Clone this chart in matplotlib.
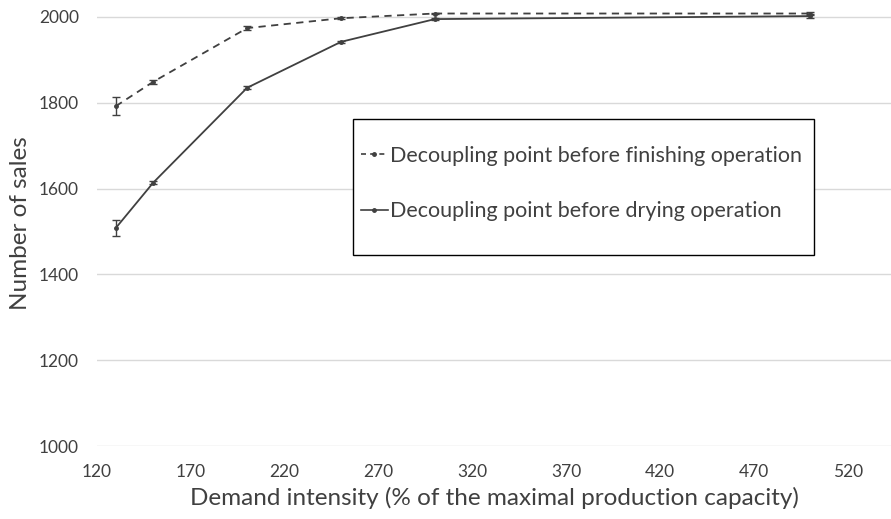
import matplotlib
matplotlib.use("Agg")
import matplotlib.pyplot as plt
from matplotlib.lines import Line2D
from matplotlib.patches import Rectangle

# demand intensity (% of maximal production capacity)
demand = [130, 150, 200, 250, 300, 500]

# number of sales
sales_finishing = [1792, 1849, 1974, 1997, 2008, 2008]
err_finishing = [21, 5, 4, 2, 2, 4]
sales_drying = [1508, 1614, 1835, 1942, 1995, 2002]
err_drying = [18, 4, 3, 2, 2, 4]

xticks = [120, 170, 220, 270, 320, 370, 420, 470, 520]
yticks = [1000, 1200, 1400, 1600, 1800, 2000]

labels = ['Decoupling point before finishing operation',
          'Decoupling point before drying operation']

plt.rcParams['font.family'] = ['Lato', 'DejaVu Sans']

W, H = 891, 519
fig = plt.figure(figsize=(W/100, H/100), dpi=100)
ax = fig.add_axes([97/W, 1 - 446/H, 1 - 97/W, 446/H])

col = '#404040'
dash = (0, (4, 3))
ax.errorbar(demand, sales_finishing, yerr=err_finishing, color=col, ls=dash,
            lw=1.3, marker='o', ms=2.5, capsize=3, elinewidth=1, capthick=1)
ax.errorbar(demand, sales_drying, yerr=err_drying, color=col, ls='-',
            lw=1.3, marker='o', ms=2.5, capsize=3, elinewidth=1, capthick=1)

ax.set_xlim(120, 543)
ax.set_ylim(1000, 2039.5)
ax.set_xticks(xticks)
ax.set_yticks(yticks)
ax.tick_params(length=0, labelsize=12.5, labelcolor='#404040', pad=13)
ax.grid(axis='y', color='#d9d9d9', lw=1)
ax.set_axisbelow(True)
for s in ax.spines.values():
    s.set_visible(False)

ax.set_xlabel('Demand intensity (% of the maximal production capacity)',
              fontsize=17.5, color='#404040', va='center')
ax.xaxis.set_label_coords(0.5, -52/446)
ax.set_ylabel('Number of sales', fontsize=17.5, color='#404040', va='center')
ax.yaxis.set_label_coords(-76/794, 0.5)

# legend box
fig.patches.append(Rectangle((353/W, 1 - 255/H), (814 - 353)/W, (255 - 119)/H,
                             transform=fig.transFigure, fill=True, fc='white',
                             ec='black', lw=1, zorder=5))

handles = [Line2D([], [], color=col, ls=(0, (3, 2.5)), lw=1.2, marker='o', ms=2.5),
           Line2D([], [], color=col, ls='-', lw=1.2, marker='o', ms=2.5)]
leg = fig.legend(handles, labels, loc='center left',
                 bbox_to_anchor=(361/W, 1 - 183.5/H),
                 fontsize=15.5, handlelength=1.25, handletextpad=0.1,
                 labelspacing=1.65, borderpad=0, borderaxespad=0, frameon=False)
leg.set_zorder(6)
for t in leg.get_texts():
    t.set_color('#404040')

fig.savefig('out.png', dpi=100)
